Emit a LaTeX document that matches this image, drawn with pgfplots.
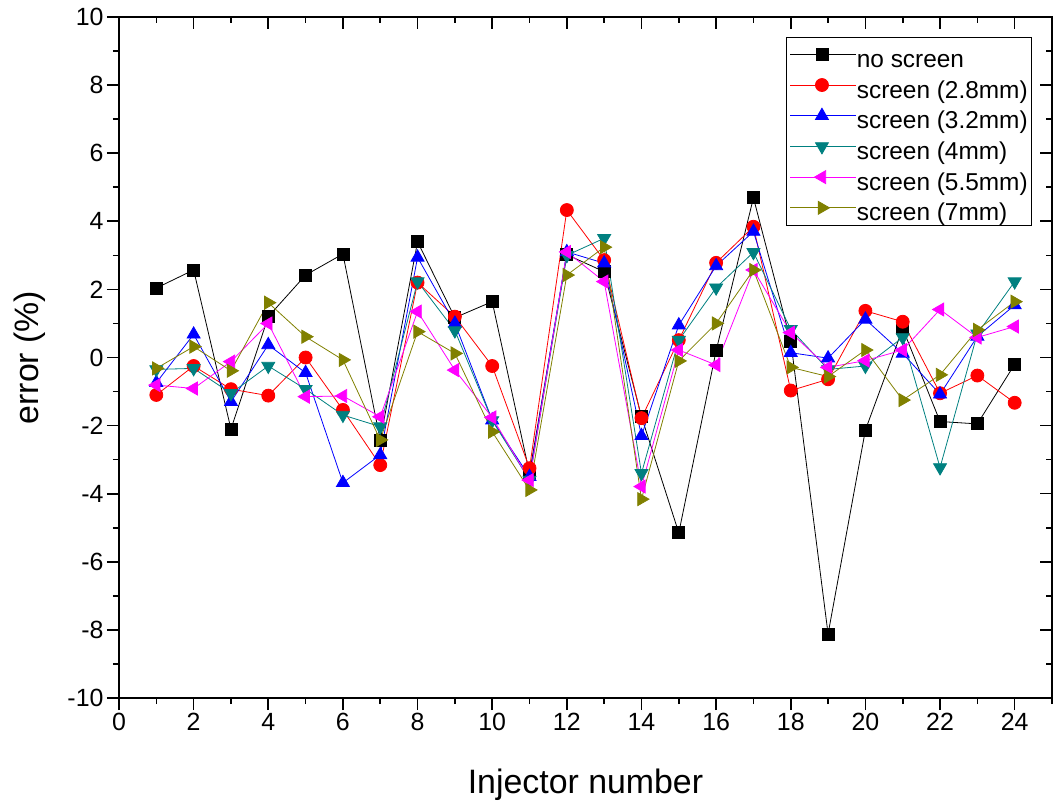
\documentclass[border=0pt]{standalone}
\usepackage{fontspec}
\setmainfont{Liberation Sans}
\usepackage{pgfplots}
\pgfplotsset{compat=1.18}
\usetikzlibrary{calc}
\definecolor{cteal}{RGB}{0,128,128}
\definecolor{colive}{RGB}{128,128,0}
\definecolor{cmag}{RGB}{255,0,255}
\begin{document}
\begin{tikzpicture}[x=1bp,y=1bp]
\begin{axis}[name=ax,
  scale only axis, width=933bp, height=681bp,
  xmin=0, xmax=25, ymin=-10, ymax=10,
  xtick={0,2,...,24}, minor xtick={1,3,...,25},
  ytick={-10,-8,...,10}, minor ytick={-9,-7,...,9},
  xtick pos=left, ytick pos=left, tick align=outside,
  major tick length=12bp, minor tick length=6bp,
  axis line style={line width=2.2bp},
  every tick/.style={line width=1.6bp, black},
  /pgf/number format/assume math mode=true,
  ticklabel style={font=\fontsize{25}{29}\selectfont},
  xlabel={Injector number}, ylabel={error (\%)},
  label style={font=\fontsize{34}{39}\selectfont},
  xlabel style={at={(axis description cs:0.5,-0.128)}, anchor=center},
  ylabel style={at={(axis description cs:-0.0954,0.5)}, anchor=center},
  legend style={at={(0.9786,0.9706)}, anchor=north east, draw=black, line width=0.6bp,
    font=\fontsize{24.5}{29}\selectfont, row sep=0.7bp, inner xsep=4bp, inner ysep=2bp,
    nodes={inner sep=0bp, text height=28bp, text depth=2bp}},
  legend cell align=left,
  legend image code/.code={\draw[mark repeat=2,mark phase=2] plot coordinates {(4bp,0bp) (31.5bp,0bp) (59bp,0bp)};\path (0bp,0bp) -- (66bp,0bp);},
  every axis plot/.append style={line width=0.8bp},
]
\addplot[black, mark=square*, mark size=6bp, mark options={solid}] coordinates {
(1,2.04)(2,2.57)(3,-2.10)(4,1.20)(5,2.42)(6,3.04)(7,-2.42)(8,3.40)(9,1.17)(10,1.64)(11,-3.40)(12,3.02)
(13,2.52)(14,-1.74)(15,-5.15)(16,0.20)(17,4.69)(18,0.48)(19,-8.12)(20,-2.13)(21,0.85)(22,-1.88)(23,-1.95)(24,-0.20)};
\addlegendentry{no screen}
\addplot[red, mark=*, mark size=6.5bp] coordinates {
(1,-1.10)(2,-0.25)(3,-0.93)(4,-1.12)(5,0.00)(6,-1.54)(7,-3.16)(8,2.20)(9,1.20)(10,-0.25)(11,-3.25)(12,4.33)
(13,2.86)(14,-1.78)(15,0.51)(16,2.78)(17,3.84)(18,-0.97)(19,-0.64)(20,1.37)(21,1.05)(22,-1.05)(23,-0.53)(24,-1.33)};
\addlegendentry{screen (2.8mm)}
\addplot[blue, mark=triangle*, mark size=7.5bp] coordinates {
(1,-0.74)(2,0.68)(3,-1.30)(4,0.37)(5,-0.45)(6,-3.68)(7,-2.86)(8,2.94)(9,1.00)(10,-1.84)(11,-3.50)(12,3.10)
(13,2.77)(14,-2.30)(15,0.95)(16,2.69)(17,3.70)(18,0.14)(19,-0.02)(20,1.12)(21,0.12)(22,-1.08)(23,0.62)(24,1.54)};
\addlegendentry{screen (3.2mm)}
\addplot[cteal, mark=triangle*, mark size=7.5bp, mark options={rotate=180}] coordinates {
(1,-0.35)(2,-0.32)(3,-1.05)(4,-0.25)(5,-0.93)(6,-1.69)(7,-2.03)(8,2.23)(9,0.79)(10,-1.85)(11,-3.60)(12,3.00)
(13,3.50)(14,-3.40)(15,0.51)(16,2.05)(17,3.09)(18,0.83)(19,-0.35)(20,-0.25)(21,0.59)(22,-3.23)(23,0.70)(24,2.23)};
\addlegendentry{screen (4mm)}
\addplot[cmag, mark=triangle*, mark size=7.5bp, mark options={rotate=90}] coordinates {
(1,-0.81)(2,-0.91)(3,-0.12)(4,1.00)(5,-1.15)(6,-1.13)(7,-1.74)(8,1.35)(9,-0.37)(10,-1.76)(11,-3.60)(12,3.10)
(13,2.23)(14,-3.79)(15,0.22)(16,-0.22)(17,2.57)(18,0.73)(19,-0.29)(20,-0.09)(21,0.22)(22,1.41)(23,0.59)(24,0.91)};
\addlegendentry{screen (5.5mm)}
\addplot[colive, mark=triangle*, mark size=7.5bp, mark options={rotate=-90}] coordinates {
(1,-0.32)(2,0.32)(3,-0.39)(4,1.61)(5,0.61)(6,-0.07)(7,-2.42)(8,0.76)(9,0.12)(10,-2.18)(11,-3.89)(12,2.42)
(13,3.24)(14,-4.16)(15,-0.10)(16,1.00)(17,2.57)(18,-0.29)(19,-0.56)(20,0.22)(21,-1.25)(22,-0.51)(23,0.81)(24,1.64)};
\addlegendentry{screen (7mm)}
\end{axis}
\begin{axis}[
  scale only axis, width=933bp, height=681bp,
  xmin=0, xmax=25, ymin=-10, ymax=10,
  xtick={0,2,...,24}, minor xtick={1,3,...,25},
  ytick={-10,-8,...,10}, minor ytick={-9,-7,...,9},
  xtick pos=right, ytick pos=right, tick align=inside,
  major tick length=12bp, minor tick length=6bp,
  axis line style={line width=2.2bp},
  every tick/.style={line width=1.6bp, black},
  xticklabels={}, yticklabels={},
]
\end{axis}
\path ($(ax.south west)+(-119bp,-110bp)$) rectangle ($(ax.north east)+(11bp,17bp)$);
\end{tikzpicture}
\end{document}
